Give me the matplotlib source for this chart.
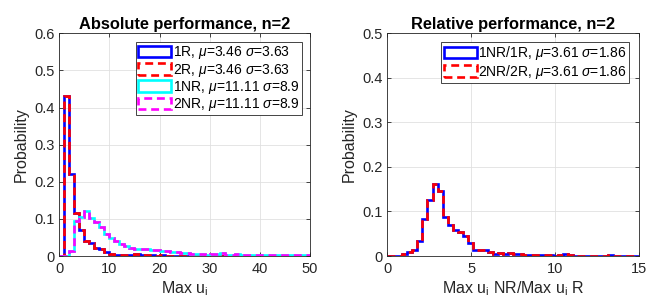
import matplotlib
matplotlib.use("Agg")
import matplotlib.pyplot as plt
import numpy as np
from matplotlib.patches import Rectangle
from matplotlib.ticker import FormatStrFormatter

plt.rcParams["font.family"] = ["Liberation Sans", "DejaVu Sans"]
plt.rcParams["mathtext.fontset"] = "custom"
plt.rcParams["mathtext.rm"] = "Liberation Sans"
plt.rcParams["mathtext.it"] = "Liberation Sans:italic"

# --- data ---
abs_edges = np.arange(0, 51, 1)
abs_R = [0, 0.43, 0.22, 0.115, 0.07, 0.041, 0.034, 0.021, 0.02, 0.011,
         0.005, 0.004, 0.003, 0.003, 0.002, 0.006, 0.003, 0.002, 0.002, 0.001,
         0.002, 0.001, 0.001, 0.001, 0.001, 0.001, 0.0005, 0.0005, 0.0005, 0.0005,
         0.0005, 0.0005, 0.0005, 0.0005, 0.0005, 0.0005, 0.0005, 0.0005, 0.0005, 0.0005,
         0.0005, 0.0005, 0.0005, 0.0005, 0.0005, 0.0005, 0.0005, 0.0005, 0.0005, 0.0005]
abs_NR = [0, 0, 0.013, 0.095, 0.105, 0.122, 0.102, 0.091, 0.077, 0.06,
          0.048, 0.04, 0.032, 0.027, 0.022, 0.02, 0.02, 0.018, 0.017, 0.016,
          0.014, 0.013, 0.012, 0.01, 0.009, 0.007, 0.006, 0.005, 0.005, 0.004,
          0.006, 0.005, 0.008, 0.004, 0.004, 0.006, 0.004, 0.003, 0.003, 0.004,
          0.003, 0.003, 0.002, 0.003, 0.003, 0.004, 0.002, 0.003, 0.002, 0.003]
abs_labels = [r"1R, $\mu$=3.46 $\sigma$=3.63", r"2R, $\mu$=3.46 $\sigma$=3.63",
              r"1NR, $\mu$=11.11 $\sigma$=8.9", r"2NR, $\mu$=11.11 $\sigma$=8.9"]

rel_edges = np.linspace(0, 15, 51)
rel_vals = [0.001, 0.001, 0.001, 0.004, 0.010, 0.013, 0.034, 0.084, 0.125, 0.161,
            0.146, 0.088, 0.069, 0.058, 0.054, 0.046, 0.029, 0.014, 0.014, 0.014,
            0.009, 0.005, 0.007, 0.005, 0.007, 0.004, 0.004, 0.003, 0.003, 0.002,
            0.003, 0.002, 0.002, 0.001, 0.002, 0.004, 0.002, 0.001, 0.001, 0.001,
            0.001, 0.001, 0.001, 0.001, 0.002, 0.001, 0.001, 0.001, 0.001, 0.001]
rel_labels = [r"1NR/1R, $\mu$=3.61 $\sigma$=1.86", r"2NR/2R, $\mu$=3.61 $\sigma$=1.86"]

DARK = "#262626"
dash = (0, (3, 1.8))
lw = 1.9


def style(ax, xmax, ymax, xstep):
    ax.set_xlim(0, xmax)
    ax.set_ylim(0, ymax)
    ax.set_xticks(np.arange(0, xmax + 0.01, xstep))
    ax.set_yticks(np.arange(0, ymax + 0.001, 0.1))
    ax.yaxis.set_major_formatter(FormatStrFormatter("%g"))
    ax.xaxis.set_major_formatter(FormatStrFormatter("%g"))
    ax.grid(True, color="#e0e0e0", lw=0.6)
    ax.set_axisbelow(True)
    ax.tick_params(direction="in", top=True, right=True, length=3, width=0.6,
                   colors=DARK, labelsize=10.5)
    ax.tick_params(axis="x", pad=4)
    ax.tick_params(axis="y", pad=3.5)
    for s in ax.spines.values():
        s.set_color(DARK)
        s.set_linewidth(0.6)
    ax.set_ylabel("Probability", fontsize=11.5, color=DARK, labelpad=4)


def legend(ax, styles, labels, anchor):
    handles = [Rectangle((0, 0), 1, 1, facecolor="none", edgecolor=c, linestyle=ls, lw=lw)
               for c, ls in styles]
    leg = ax.legend(handles, labels, loc="upper right", bbox_to_anchor=anchor,
                    borderaxespad=0, fontsize=10, handlelength=2.4, handleheight=0.9,
                    handletextpad=0.1, labelspacing=0.02, borderpad=0.15,
                    fancybox=False, edgecolor=DARK, framealpha=1)
    leg.get_frame().set_linewidth(0.6)


fig = plt.figure(figsize=(6.46, 3.03), dpi=100)
ax1 = fig.add_axes([0.0918, 0.155, 0.388, 0.735])
ax2 = fig.add_axes([0.5995, 0.155, 0.389, 0.735])

ax1.stairs(abs_R, abs_edges, color="blue", lw=lw)
ax1.stairs(abs_R, abs_edges, color="red", lw=lw, linestyle=dash)
ax1.stairs(abs_NR, abs_edges, color="cyan", lw=lw)
ax1.stairs(abs_NR, abs_edges, color="magenta", lw=lw, linestyle=dash)
style(ax1, 50, 0.6, 10)
ax1.set_title("Absolute performance, n=2", fontsize=11.8, fontweight="bold", pad=3)
ax1.set_xlabel(r"Max u$_{\rm i}$", fontsize=11.5, color=DARK, labelpad=3)
legend(ax1, [("blue", "-"), ("red", dash), ("cyan", "-"), ("magenta", dash)],
       abs_labels, (1 - 8.3 / 250.7, 1 - 9 / 222.7))

ax2.stairs(rel_vals, rel_edges, color="blue", lw=lw)
ax2.stairs(rel_vals, rel_edges, color="red", lw=lw, linestyle=dash)
style(ax2, 15, 0.5, 5)
ax2.set_title("Relative performance, n=2", fontsize=11.8, fontweight="bold", pad=3)
ax2.set_xlabel(r"Max u$_{\rm i}$ NR/Max u$_{\rm i}$ R", fontsize=11.5, color=DARK, labelpad=3)
legend(ax2, [("blue", "-"), ("red", dash)], rel_labels,
       (1 - 9.7 / 251.4, 1 - 9 / 222.7))

fig.savefig("out.png", dpi=100)
